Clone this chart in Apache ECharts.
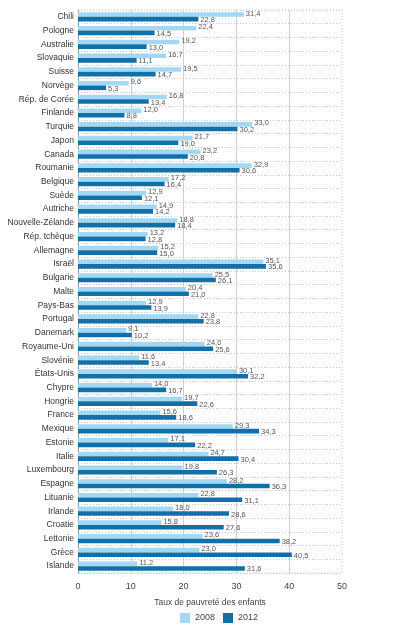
<!DOCTYPE html>
<html>
<head>
<meta charset="utf-8">
<script src="https://cdn.jsdelivr.net/npm/echarts@6/dist/echarts.min.js"></script>
<style>
html, body { margin: 0; padding: 0; background: #fff; }
#chart { width: 397px; height: 632px; }
</style>
</head>
<body>
<div id="chart"></div>
<script>
// pays, du haut vers le bas
var countries = ['Chili', 'Pologne', 'Australie', 'Slovaquie', 'Suisse', 'Norvège', 'Rép. de Corée', 'Finlande',
  'Turquie', 'Japon', 'Canada', 'Roumanie', 'Belgique', 'Suède', 'Autriche', 'Nouvelle-Zélande', 'Rép. tchèque',
  'Allemagne', 'Israël', 'Bulgarie', 'Malte', 'Pays-Bas', 'Portugal', 'Danemark', 'Royaume-Uni', 'Slovénie',
  'États-Unis', 'Chypre', 'Hongrie', 'France', 'Mexique', 'Estonie', 'Italie', 'Luxembourg', 'Espagne',
  'Lituanie', 'Irlande', 'Croatie', 'Lettonie', 'Grèce', 'Islande'];

var rate2008 = [31.4, 22.4, 19.2, 16.7, 19.5, 9.6, 16.8, 12.0, 33.0, 21.7, 23.2, 32.9, 17.2, 12.9, 14.9, 18.8, 13.2,
  15.2, 35.1, 25.5, 20.4, 12.9, 22.8, 9.1, 24.0, 11.6, 30.1, 14.0, 19.7, 15.6, 29.3, 17.1, 24.7, 19.8, 28.2,
  22.8, 18.0, 15.8, 23.6, 23.0, 11.2];

var rate2012 = [22.8, 14.5, 13.0, 11.1, 14.7, 5.3, 13.4, 8.8, 30.2, 19.0, 20.8, 30.6, 16.4, 12.1, 14.2, 18.4, 12.8,
  15.0, 35.6, 26.1, 21.0, 13.9, 23.8, 10.2, 25.6, 13.4, 32.2, 16.7, 22.6, 18.6, 34.3, 22.2, 30.4, 26.3, 36.3,
  31.1, 28.6, 27.6, 38.2, 40.5, 31.6];

var xTicks = [0, 10, 20, 30, 40, 50];

var font = 'Liberation Sans';

function fmt(p) {
  return p.value.toFixed(1).replace('.', ',');
}

var chart = echarts.init(document.getElementById('chart'));
chart.setOption({
  animation: false,
  textStyle: { fontFamily: font },
  grid: {
    left: 78, right: 55, top: 10, bottom: 59,
    show: true, borderWidth: 1, borderColor: '#c8c8c8', borderType: [1, 2]
  },
  legend: {
    data: ['2008', '2012'],
    top: 608,
    left: 175,
    itemWidth: 10,
    itemHeight: 10,
    itemGap: 8,
    icon: 'rect',
    textStyle: { fontSize: 9, color: '#444', fontFamily: font }
  },
  xAxis: {
    type: 'value',
    min: xTicks[0],
    max: xTicks[xTicks.length - 1],
    interval: 10,
    name: 'Taux de pauvreté des enfants',
    nameLocation: 'middle',
    nameGap: 25,
    nameTextStyle: { fontSize: 8.5, color: '#444' },
    axisLine: { show: false },
    axisTick: { show: false },
    axisLabel: { fontSize: 9, color: '#444', margin: 9 },
    splitLine: { showMaxLine: false, lineStyle: { color: '#cfcfcf', width: 1 } }
  },
  yAxis: {
    type: 'category',
    data: countries,
    inverse: true,
    axisLine: { show: true, lineStyle: { color: '#9a9a9a' } },
    axisTick: { show: false },
    axisLabel: { fontSize: 8.5, color: '#333', margin: 4 },
    splitLine: { show: true, lineStyle: { color: '#c8c8c8', type: [1, 2] } }
  },
  series: [
    {
      name: '2008',
      type: 'bar',
      data: rate2008,
      barGap: '0%',
      barCategoryGap: '33%',
      itemStyle: { color: '#a3d8f4' },
      label: {
        show: true, position: 'right', distance: 2, offset: [0, -1],
        fontSize: 7.5, color: '#555', formatter: fmt
      }
    },
    {
      name: '2012',
      type: 'bar',
      data: rate2012,
      barGap: '0%',
      barCategoryGap: '33%',
      itemStyle: { color: '#1170a8' },
      label: {
        show: true, position: 'right', distance: 2, offset: [0, 1],
        fontSize: 7.5, color: '#555', formatter: fmt
      }
    }
  ]
});
</script>
</body>
</html>
